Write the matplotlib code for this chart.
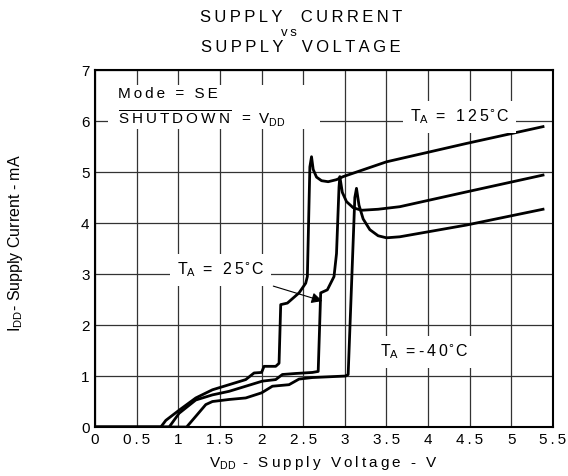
import matplotlib.pyplot as plt
from matplotlib.patches import Rectangle

plt.rcParams['font.family'] = ['Liberation Sans', 'DejaVu Sans']

# TA = 125 C curve
v_125 = [0.0, 0.79, 0.85, 1.01, 1.21, 1.41, 1.61, 1.81, 1.91, 2.0, 2.03, 2.17, 2.21,
         2.23, 2.31, 2.45, 2.53, 2.55, 2.58, 2.60, 2.62, 2.66, 2.72, 2.80, 2.90, 2.98,
         3.50, 4.46, 5.38]
i_125 = [0.0, 0.0, 0.13, 0.33, 0.57, 0.73, 0.83, 0.93, 1.06, 1.07, 1.19, 1.19, 1.25,
         2.40, 2.43, 2.63, 2.82, 2.95, 5.10, 5.30, 5.05, 4.90, 4.83, 4.81, 4.85, 4.91,
         5.20, 5.56, 5.89]

# TA = 25 C curve
v_25 = [0.0, 0.89, 1.01, 1.21, 1.41, 1.61, 1.81, 2.01, 2.17, 2.25, 2.41, 2.61, 2.68,
        2.71, 2.79, 2.87, 2.90, 2.93, 2.94, 2.97, 3.02, 3.10, 3.20, 3.40, 3.66, 4.46,
        5.38]
i_25 = [0.0, 0.0, 0.27, 0.53, 0.63, 0.70, 0.80, 0.90, 0.93, 1.03, 1.05, 1.07, 1.09,
        2.63, 2.69, 2.95, 3.40, 4.70, 4.91, 4.60, 4.42, 4.30, 4.25, 4.27, 4.32, 4.61,
        4.94]

# TA = -40 C curve
v_m40 = [0.0, 1.10, 1.21, 1.33, 1.41, 1.61, 1.81, 2.0, 2.13, 2.33, 2.45, 2.61, 3.01,
         3.04, 3.12, 3.14, 3.17, 3.22, 3.30, 3.40, 3.50, 3.66, 4.46, 5.38]
i_m40 = [0.0, 0.0, 0.21, 0.44, 0.50, 0.54, 0.57, 0.67, 0.80, 0.83, 0.94, 0.97, 1.00,
         1.03, 4.50, 4.68, 4.35, 4.08, 3.87, 3.75, 3.71, 3.73, 3.96, 4.27]

x_ticks = [0, 0.5, 1, 1.5, 2, 2.5, 3, 3.5, 4, 4.5, 5, 5.5]
x_labels = ['0', '0.5', '1', '1.5', '2', '2.5', '3', '3.5', '4', '4.5', '5', '5.5']
y_ticks = [0, 1, 2, 3, 4, 5, 6, 7]
y_labels = ['0', '1', '2', '3', '4', '5', '6', '7']

TS = '\u2009'  # thin space, to get the wide letter spacing of the original


def sp(s):
    return TS.join(s)


fig = plt.figure(figsize=(5.68, 4.76), dpi=100)
ax = fig.add_axes([0.1673, 0.1029, 0.8063, 0.750])

for v, i in [(v_125, i_125), (v_25, i_25), (v_m40, i_m40)]:
    ax.plot(v, i, color='black', lw=2.0, solid_joinstyle='round', zorder=3)

ax.set_xlim(0, 5.5)
ax.set_ylim(0, 7)
ax.set_xticks(x_ticks)
ax.set_xticklabels([sp(t) for t in x_labels])
ax.set_yticks(y_ticks)
ax.set_yticklabels(y_labels)
ax.grid(True, color='#333333', lw=0.9)
ax.tick_params(length=0, labelsize=11, pad=4)
for s in ax.spines.values():
    s.set_linewidth(1.5)

ax.set_xlabel('V$_{\\mathregular{DD}}$' + sp(' - Supply Voltage - V'), fontsize=11,
              labelpad=5)
fig.text(0.027, 0.49, 'I$_{\\mathregular{DD}}$- Supply Current - mA', rotation=90,
         fontsize=11.5, ha='center', va='center')

fig.text(0.53, 0.963, sp('SUPPLY') + '    ' + sp('CURRENT'), ha='center', va='center',
         fontsize=12)
fig.text(0.508, 0.931, sp('vs'), ha='center', va='center', fontsize=9.5)
fig.text(0.53, 0.900, sp('SUPPLY') + '    ' + sp('VOLTAGE'), ha='center', va='center',
         fontsize=12)

# white panel behind the mode note
ax.add_patch(Rectangle((0.15, 5.85), 2.55, 0.85, facecolor='white', edgecolor='none',
                       zorder=2.5))
box = dict(facecolor='white', edgecolor='none', pad=5)
ax.text(0.28, 6.52, sp('Mode = SE'), fontsize=11, va='center', ha='left', zorder=4)
ax.text(0.28, 6.05, '$\\mathregular{\\overline{S\u2009H\u2009U\u2009T\u2009D\u2009O\u2009W\u2009N}}$'
        + '   ' + sp('=') + TS + ' V$_{\\mathregular{DD}}$',
        fontsize=11, va='center', ha='left', zorder=4)
ax.text(3.78, 6.08, 'T$_{\\mathregular{A}}$' + sp(' = 125') + '$^{\\circ}$C', fontsize=11.5,
        va='center', ha='left', bbox=box, zorder=4)
ax.text(3.42, 1.47, 'T$_{\\mathregular{A}}$' + sp(' =-40') + '$^{\\circ}$C', fontsize=11.5,
        va='center', ha='left', bbox=box, zorder=4)
ax.annotate('T$_{\\mathregular{A}}$' + sp(' = 25') + '$^{\\circ}$C', xy=(2.73, 2.47),
            xytext=(0.98, 3.08),
            fontsize=11.5, va='center', ha='left', bbox=box, zorder=4,
            arrowprops=dict(arrowstyle='-|>', color='black', lw=0.8,
                            mutation_scale=16, shrinkA=2, shrinkB=0))

fig.savefig('out.png', dpi=100)
